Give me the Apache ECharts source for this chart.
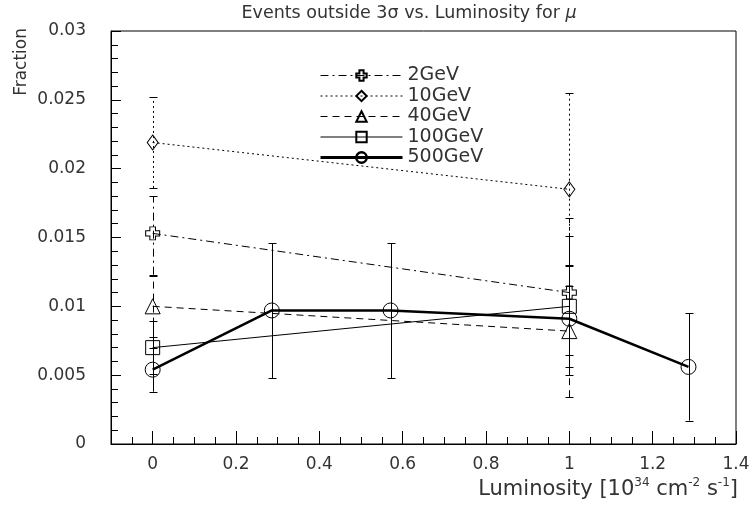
<!DOCTYPE html>
<html><head><meta charset="utf-8">
<script src="https://cdn.jsdelivr.net/npm/echarts@6/dist/echarts.min.js"></script>
<style>html,body{margin:0;padding:0;background:#fff}#c{width:754px;height:514px}</style>
</head><body><div id="c"></div>
<script>
// ---- data ----
const seriesNames = ['2GeV', '10GeV', '40GeV', '100GeV', '500GeV'];

const x2 = [0, 1];
const y2 = [0.0153, 0.0110];
const lo2 = [0.0123, 0.0056];
const hi2 = [0.0180, 0.0164];

const x10 = [0, 1];
const y10 = [0.0219, 0.0185];
const lo10 = [0.0186, 0.0115];
const hi10 = [0.0252, 0.0255];

const x40 = [0, 1];
const y40 = [0.0100, 0.0082];
const lo40 = [0.0078, 0.0034];
const hi40 = [0.0122, 0.0130];

const x100 = [0, 1];
const y100 = [0.0070, 0.0100];
const lo100 = [0.0051, 0.0065];
const hi100 = [0.0089, 0.0129];

const x500 = [0, 0.286, 0.571, 1, 1.286];
const y500 = [0.0054, 0.0097, 0.0097, 0.0091, 0.0056];
const lo500 = [0.0038, 0.0048, 0.0048, 0.0050, 0.0017];
const hi500 = [0.0070, 0.0146, 0.0146, 0.0151, 0.0095];

const xTickLabels = [0, 0.2, 0.4, 0.6, 0.8, 1, 1.2, 1.4];
const yTickLabels = [0, 0.005, 0.01, 0.015, 0.02, 0.025, 0.03];

// ---- rendering ----
const FONT = 'DejaVu Sans';
const TXT = '#333';
const crossPath = 'path://M3,0L7,0L7,3L10,3L10,7L7,7L7,10L3,10L3,7L0,7L0,3L3,3Z';

function pts(xs, ys) { return xs.map((x, i) => [x, ys[i]]); }

function errSeries(name, xs, lo, hi, dash) {
  return {
    type: 'custom', name: name, silent: true, z: 1,
    xAxisIndex: 0, yAxisIndex: 0,
    data: xs.map((x, i) => [x, lo[i], hi[i]]),
    encode: { x: 0, y: [1, 2] },
    renderItem: function (params, api) {
      const x = api.value(0);
      const p1 = api.coord([x, api.value(1)]);
      const p2 = api.coord([x, api.value(2)]);
      const cx = Math.round(p1[0]) + 0.5;
      const w = 4;
      return {
        type: 'group', children: [
          { type: 'line', shape: { x1: cx, y1: p1[1], x2: cx, y2: p2[1] }, style: { stroke: '#000', lineWidth: 1, lineDash: dash } },
          { type: 'line', shape: { x1: cx - w, y1: Math.round(p1[1]) + 0.5, x2: cx + w, y2: Math.round(p1[1]) + 0.5 }, style: { stroke: '#000', lineWidth: 1 } },
          { type: 'line', shape: { x1: cx - w, y1: Math.round(p2[1]) + 0.5, x2: cx + w, y2: Math.round(p2[1]) + 0.5 }, style: { stroke: '#000', lineWidth: 1 } }
        ]
      };
    }
  };
}

function lineSeries(name, data, symbol, size, dash, width) {
  return {
    type: 'line', name: name, data: data, z: 3,
    xAxisIndex: 0, yAxisIndex: 0,
    symbol: symbol, symbolSize: size, showAllSymbol: true,
    lineStyle: { color: '#000', width: width, type: dash },
    itemStyle: { color: 'rgba(255,255,255,0)', borderColor: '#000', borderWidth: 1 },
    emphasis: { disabled: true },
    animation: false
  };
}

const DASHDOT = [8, 4, 2, 4];
const DOT = [2, 3];
const DASH = [7, 5];

const option = {
  animation: false,
  grid: { left: 111, right: 18, top: 31, bottom: 70, show: true, borderColor: '#000', borderWidth: 1, backgroundColor: 'transparent' },
  xAxis: [{
    type: 'value', min: -0.1, max: 1.4, position: 'bottom',
    axisLine: { show: true, onZero: false, lineStyle: { color: '#000', width: 1 } },
    axisTick: { show: true, inside: true, length: 13, customValues: xTickLabels, lineStyle: { color: '#000' } },
    axisLabel: { customValues: xTickLabels, color: TXT, fontFamily: FONT, fontSize: 17, margin: 12,
      formatter: v => String(+v.toFixed(2)) },
    splitLine: { show: false }
  }, {
    type: 'value', min: -0.1, max: 1.4, interval: 0.05, position: 'bottom', gridIndex: 0,
    axisLine: { show: false },
    axisTick: { show: true, inside: true, length: 7, lineStyle: { color: '#000' } },
    axisLabel: { show: false },
    splitLine: { show: false }
  }],
  yAxis: {
    type: 'value', min: 0, max: 0.03, interval: 0.005,
    axisLine: { show: true, onZero: false, lineStyle: { color: '#000', width: 1 } },
    axisTick: { show: true, inside: true, length: 10, lineStyle: { color: '#000' } },
    minorTick: { show: true, splitNumber: 5, length: 7, lineStyle: { color: '#000' } },
    axisLabel: { color: TXT, fontFamily: FONT, fontSize: 17, margin: 25,
      formatter: v => String(+v.toFixed(3)) },
    splitLine: { show: false }
  },
  legend: {
    orient: 'vertical', left: 319, top: 66, padding: 0,
    itemWidth: 82, itemHeight: 13, itemGap: 1.5,
    textStyle: { color: TXT, fontFamily: FONT, fontSize: 19, lineHeight: 19 },
    data: [
      { name: '2GeV', lineStyle: { width: 1 } },
      { name: '10GeV', lineStyle: { width: 1 } },
      { name: '40GeV', lineStyle: { width: 1 } },
      { name: '100GeV', lineStyle: { width: 1 } },
      { name: '500GeV', lineStyle: { width: 3 }, itemStyle: { borderWidth: 2.5 } }
    ]
  },
  graphic: [
    { type: 'text', x: 409, y: 13, style: {
      text: '{a|Events outside 3σ vs. Luminosity for }{i|μ}',
      textAlign: 'center', textVerticalAlign: 'middle',
      rich: { a: { fontFamily: FONT, fontSize: 17.5, fill: TXT }, i: { fontFamily: FONT, fontSize: 17.5, fontStyle: 'italic', fill: TXT } }
    } },
    { type: 'text', x: 22, y: 28, rotation: Math.PI / 2, style: {
      text: 'Fraction', textAlign: 'right', textVerticalAlign: 'middle',
      font: '17px "DejaVu Sans"', fill: TXT
    } },
    { type: 'text', x: 738, y: 490, style: {
      text: '{a|Luminosity [10}{s|34}{a| cm}{s|-2}{a| s}{s|-1}{a|]}',
      textAlign: 'right', textVerticalAlign: 'middle',
      rich: {
        a: { fontFamily: FONT, fontSize: 21, fill: TXT, lineHeight: 26 },
        s: { fontFamily: FONT, fontSize: 12, fill: TXT, lineHeight: 13, verticalAlign: 'top' }
      }
    } }
  ],
  series: [
    errSeries('e2', x2, lo2, hi2, DASHDOT),
    errSeries('e10', x10, lo10, hi10, DOT),
    errSeries('e40', x40, lo40, hi40, DASH),
    errSeries('e100', x100, lo100, hi100, null),
    errSeries('e500', x500, lo500, hi500, null),
    lineSeries(seriesNames[0], pts(x2, y2), crossPath, [14, 13], DASHDOT, 1),
    lineSeries(seriesNames[1], pts(x10, y10), 'diamond', [11, 15], DOT, 1),
    lineSeries(seriesNames[2], pts(x40, y40), 'triangle', [15, 15], DASH, 1),
    lineSeries(seriesNames[3], pts(x100, y100), 'rect', [14, 14], 'solid', 1),
    lineSeries(seriesNames[4], pts(x500, y500), 'circle', [15, 15], 'solid', 2.5)
  ]
};

const chart = echarts.init(document.getElementById('c'));
chart.setOption(option);
</script>
</body></html>
